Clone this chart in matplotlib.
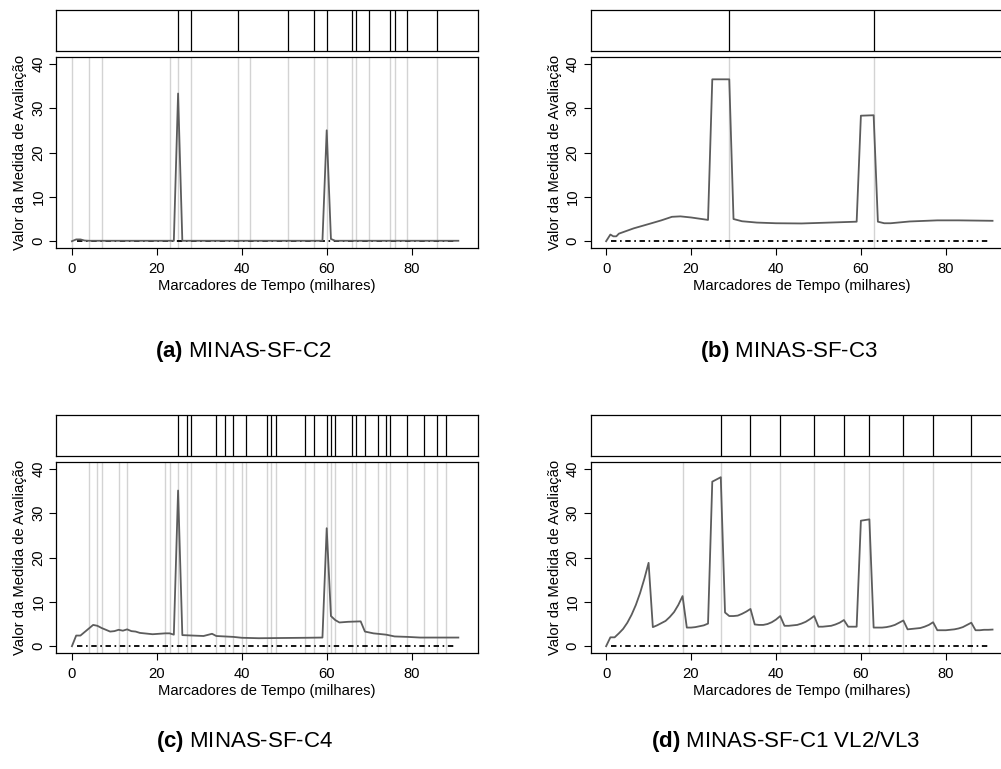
import matplotlib
matplotlib.use("Agg")
from matplotlib import pyplot as plt

plt.rcParams['font.family'] = ['Liberation Sans', 'DejaVu Sans']
plt.rcParams['mathtext.fontset'] = 'custom'
plt.rcParams['mathtext.rm'] = 'Liberation Sans'
plt.rcParams['mathtext.bf'] = 'Liberation Sans:bold'

# (a) MINAS-SF-C2
a_x = [0, 1, 2, 3, 4, 24, 25, 26, 59, 60, 61, 62, 91]
a_y = [0, 0.4, 0.4, 0.15, 0.1, 0.1, 33.3, 0.1, 0.1, 25.0, 0.5, 0.1, 0.1]
a_grid = [0, 4, 7, 23, 25, 28, 39, 42, 51, 57, 60, 66, 67, 70, 75, 76, 79, 86]
a_marks = [25, 28, 39, 51, 57, 60, 66, 67, 70, 75, 76, 79, 86]

# (b) MINAS-SF-C3
b_x = [0, 1, 1.7, 2.4, 3, 6.5, 10.5, 13, 15.5, 17.5, 20, 24, 25, 29, 30, 32, 35.5,
       40, 46, 51, 59, 60, 63, 64, 65.5, 67, 71.5, 78, 83, 91]
b_y = [0, 1.5, 1.1, 1.1, 1.7, 2.9, 4.0, 4.7, 5.5, 5.6, 5.35, 4.8, 36.5, 36.5, 5.0, 4.5, 4.2,
       4.05, 4.0, 4.15, 4.4, 28.3, 28.4, 4.4, 4.05, 4.05, 4.45, 4.7, 4.7, 4.6]
b_grid = [29, 63]
b_marks = [29, 63]

# (c) MINAS-SF-C4
c_x = [0, 1, 2, 5, 6, 7, 9, 10, 11, 12, 13, 14, 15, 16, 19, 22, 23, 24, 25, 26, 31, 33, 34,
       38, 40, 44, 55, 59, 60, 61, 62, 63, 65, 68, 69, 71, 74, 76, 79, 82, 91]
c_y = [0, 2.4, 2.4, 4.8, 4.6, 4.1, 3.3, 3.4, 3.7, 3.5, 3.8, 3.4, 3.3, 3.0, 2.7, 2.9, 2.9, 2.6,
       35.1, 2.5, 2.3, 2.8, 2.3, 2.1, 1.9, 1.8, 1.9, 1.95, 26.6, 6.8, 5.9, 5.35, 5.5, 5.6, 3.3,
       2.9, 2.6, 2.2, 2.1, 1.95, 1.95]
c_grid = [4, 6, 7, 11, 13, 22, 23, 25, 27, 28, 34, 36, 38, 40, 41, 46, 47, 48, 55, 57, 60,
          61, 62, 66, 67, 69, 72, 74, 75, 79, 83, 86, 88]
c_marks = [25, 27, 28, 34, 36, 38, 41, 46, 47, 48, 55, 57, 60, 61, 62, 66, 67, 69, 72, 74,
           75, 79, 83, 86, 88]

# (d) MINAS-SF-C1 VL2/VL3
d_x = [0, 1, 2, 3, 4, 5, 6, 7, 8, 9, 10, 11, 12, 13, 14, 15, 16, 17, 18, 19, 20, 21, 22, 23,
       24, 25, 27, 28, 29, 30, 31, 32, 33, 34, 35, 36, 37, 38, 39, 40, 41, 42, 43, 44, 45, 46,
       47, 48, 49, 50, 51, 52, 53, 54, 55, 56, 57, 58, 59, 60, 62, 63, 64, 65, 66, 67, 68, 69,
       70, 71, 72, 73, 74, 75, 76, 77, 78, 79, 80, 81, 82, 83, 84, 85, 86, 87, 88, 89, 90, 91]
d_y = [0, 2.0, 2.0, 2.9, 3.9, 5.3, 7.1, 9.3, 12.0, 15.2, 18.8, 4.3, 4.7, 5.2, 5.7, 6.6, 7.7,
       9.3, 11.3, 4.2, 4.2, 4.3, 4.5, 4.7, 5.1, 37.1, 38.1, 7.6, 6.8, 6.8, 6.9, 7.3, 7.8, 8.4,
       4.9, 4.8, 4.8, 5.0, 5.4, 6.0, 6.8, 4.6, 4.6, 4.7, 4.8, 5.1, 5.5, 6.1, 6.8, 4.4, 4.4, 4.5,
       4.6, 4.9, 5.3, 5.9, 4.4, 4.4, 4.4, 28.3, 28.6, 4.2, 4.2, 4.2, 4.3, 4.5, 4.8, 5.3, 5.8,
       3.8, 3.9, 4.0, 4.1, 4.4, 4.8, 5.4, 3.6, 3.6, 3.6, 3.7, 3.8, 4.0, 4.3, 4.8, 5.3, 3.6, 3.6,
       3.7, 3.7, 3.75]
d_grid = [18, 27, 34, 41, 49, 56, 62, 70, 77, 86]
d_marks = [27, 34, 41, 49, 56, 62, 70, 77, 86]

captions = [r'$\mathbf{(a)}$ MINAS-SF-C2', r'$\mathbf{(b)}$ MINAS-SF-C3',
            r'$\mathbf{(c)}$ MINAS-SF-C4', r'$\mathbf{(d)}$ MINAS-SF-C1 VL2/VL3']
ref_x = [1.2, 90]
ref_y = [0, 0]

W, H = 1001, 769
XLIM = (-3.68, 95.68)
YLIM = (-1.6, 41.6)
FS = 10.6

fig = plt.figure(figsize=(W / 100, H / 100), dpi=100)


def px_axes(x0, y0, x1, y1):
    return fig.add_axes([x0 / W, 1 - y1 / H, (x1 - x0) / W, (y1 - y0) / H])


def draw_panel(left, top, xs, ys, grid, marks, caption, cap_x, cap_y):
    right = left + 421.9
    # top strip with detection marks
    strip = px_axes(left, top, right, top + 40.7)
    for m in marks:
        strip.axvline(m, color='black', lw=0.9)
    strip.set_xlim(XLIM)
    strip.set_xticks([])
    strip.set_yticks([])
    for s in strip.spines.values():
        s.set_linewidth(0.9)

    ax = px_axes(left, top + 46.7, right, top + 238.3)
    for g in grid:
        ax.axvline(g, color='#d3d3d3', lw=1.0, zorder=1)
    ax.plot(xs, ys, color='#5c5c5c', lw=1.3, zorder=3)
    ax.plot(ref_x, ref_y, color='black', lw=1.3, dashes=(3, 2, 0.9, 2), zorder=2)
    ax.set_xlim(XLIM)
    ax.set_ylim(YLIM)
    ax.set_xticks([0, 20, 40, 60, 80])
    ax.set_yticks([0, 10, 20, 30, 40])
    ax.tick_params(axis='both', direction='out', length=4.8, width=0.8, labelsize=FS)
    ax.tick_params(axis='x', pad=5)
    ax.tick_params(axis='y', pad=3, labelrotation=90)
    for lab in ax.get_yticklabels():
        lab.set_va('center')
    for s in ax.spines.values():
        s.set_linewidth(0.9)
    ax.set_xlabel('Marcadores de Tempo (milhares)', fontsize=FS, labelpad=2.5)
    ax.set_ylabel('Valor da Medida de Avaliação', fontsize=FS, labelpad=3)
    fig.text(cap_x / W, 1 - cap_y / H, caption, fontsize=16, ha='center', va='center')


draw_panel(56.3, 10, a_x, a_y, a_grid, a_marks, captions[0], 243, 351)
draw_panel(590.5, 10, b_x, b_y, b_grid, b_marks, captions[1], 789, 351)
draw_panel(56.3, 415, c_x, c_y, c_grid, c_marks, captions[2], 244, 741)
draw_panel(590.5, 415, d_x, d_y, d_grid, d_marks, captions[3], 786, 741)

fig.savefig('out.png', dpi=100)
